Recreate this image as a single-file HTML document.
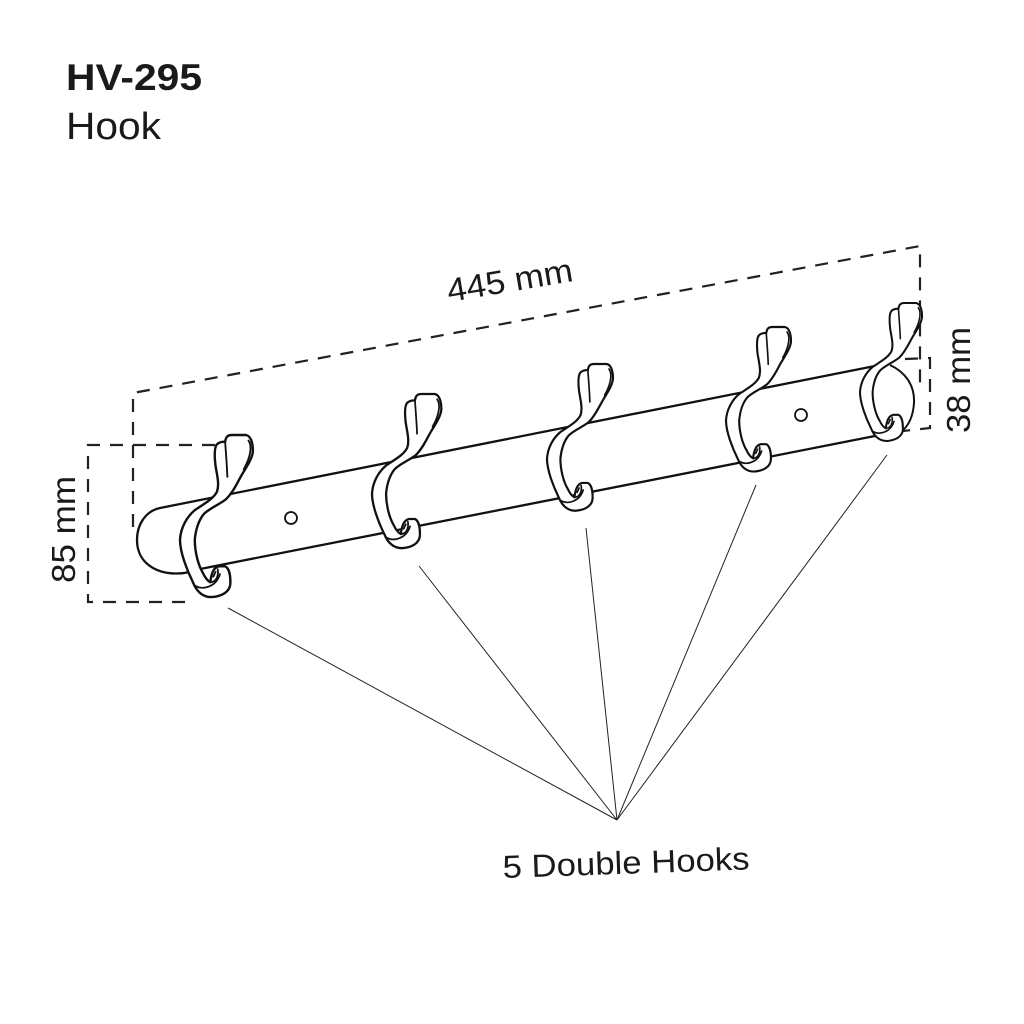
<!DOCTYPE html>
<html>
<head>
<meta charset="utf-8">
<style>
html,body{margin:0;padding:0;background:#fff}
svg{display:block}
text{font-family:"Liberation Sans",sans-serif;fill:#1a1a1a}
.h{fill:#fff;stroke:#111;stroke-width:6.5;stroke-linejoin:round;stroke-linecap:round}
.i{fill:none;stroke:#111;stroke-width:5;stroke-linecap:round}
.d{fill:none;stroke:#222;stroke-width:2.2;stroke-dasharray:13 10}
.l{stroke:#222;stroke-width:1;fill:none}
</style>
</head>
<body>
<svg width="1024" height="1024" viewBox="0 0 1024 1024" xmlns="http://www.w3.org/2000/svg">
<defs>
<g id="hook">
<path class="h" d="M172 60C174 48 178 42 190 42L228 42C240 44 247 60 247 85C246 105 230 128 218 148C205 170 195 195 175 215C160 228 130 240 115 255C100 272 92 300 90 325C90 360 100 395 112 415C118 428 124 436 132 440C134 420 140 400 155 397L172 397C182 402 187 420 186 445C184 465 165 478 135 480C110 480 95 465 85 440C70 410 50 360 50 325C52 290 70 262 90 245C115 228 140 215 150 195C157 175 150 150 146 125C143 100 143 75 150 67C155 62 164 60 172 60Z"/>
<path class="i" d="M172 60C174 90 177 125 178 155"/>
<path class="i" d="M235 57C245 70 242 100 222 135"/>
<path class="i" d="M132 440C146 440 155 425 152 405"/>
<path class="i" d="M92 450C112 462 148 452 158 418"/>
<path class="i" d="M140 425L146 412"/>
</g>
</defs>

<text x="66" y="90" font-size="37" font-weight="700" textLength="136" lengthAdjust="spacingAndGlyphs">HV-295</text>
<text x="66" y="139" font-size="38" textLength="95" lengthAdjust="spacingAndGlyphs">Hook</text>

<!-- rail -->
<path d="M188 572C160 578 137 566 137 540C137 525 146 512 160 508L873 366L885 434Z" fill="#fff" stroke="none"/>
<path d="M190 572C162 578 137 566 137 540C137 524 146 511 160 508L880 365" fill="none" stroke="#111" stroke-width="2.3"/>
<path d="M190 571L885 434" fill="none" stroke="#111" stroke-width="2.3"/>
<path d="M890 365C905 372 915 385 914 403C913 418 908 426 902 431" fill="none" stroke="#111" stroke-width="2"/>
<circle cx="291" cy="518" r="6" fill="#fff" stroke="#111" stroke-width="1.8"/>
<circle cx="801" cy="415" r="6" fill="#fff" stroke="#111" stroke-width="1.8"/>

<!-- dashed dimensions -->
<path class="d" d="M133 527V393L920 246V385"/>
<path class="d" d="M215 445H88V602H192"/>
<path class="d" d="M905 359L930 358V428L903 431"/>

<!-- leader lines -->
<path class="l" d="M228 608L617 820M419 566L617 820M586 528L617 820M756 485L617 820M887 455L617 820"/>

<!-- hooks -->
<use href="#hook" transform="translate(180 435) scale(.37) translate(-50 -42)"/>
<use href="#hook" transform="translate(372 394) scale(.352) translate(-50 -42)"/>
<use href="#hook" transform="translate(547 364) scale(.335) translate(-50 -42)"/>
<use href="#hook" transform="translate(726 327) scale(.33) translate(-50 -42)"/>
<use href="#hook" transform="translate(860 303) scale(.315) translate(-50 -42)"/>

<!-- labels -->
<text transform="translate(449 302) rotate(-9.6)" font-size="33" textLength="127" lengthAdjust="spacingAndGlyphs">445 mm</text>
<text transform="translate(75 583) rotate(-90)" font-size="33" textLength="107" lengthAdjust="spacingAndGlyphs">85 mm</text>
<text transform="translate(970 433) rotate(-90)" font-size="33" textLength="106" lengthAdjust="spacingAndGlyphs">38 mm</text>
<text transform="translate(503 878) rotate(-2)" font-size="32" textLength="247" lengthAdjust="spacingAndGlyphs">5 Double Hooks</text>
</svg>
</body>
</html>
